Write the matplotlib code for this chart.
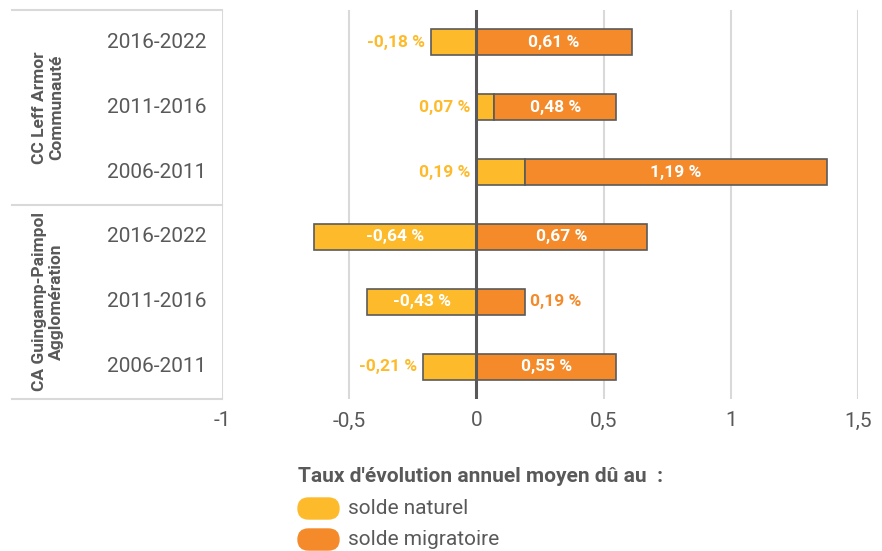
import matplotlib.pyplot as plt
from matplotlib.patches import FancyBboxPatch
from matplotlib.lines import Line2D

plt.rcParams['font.family'] = ['Roboto', 'DejaVu Sans']

# data (top to bottom)
groups = ["CC Leff Armor\nCommunauté", "CA Guingamp-Paimpol\nAgglomération"]
periods = ["2016-2022", "2011-2016", "2006-2011", "2016-2022", "2011-2016", "2006-2011"]
solde_naturel = [-0.18, 0.07, 0.19, -0.64, -0.43, -0.21]
solde_migratoire = [0.61, 0.48, 1.19, 0.67, 0.19, 0.55]
xticks = [-1, -0.5, 0, 0.5, 1, 1.5]
xtick_labels = ["-1", "-0,5", "0", "0,5", "1", "1,5"]

YELLOW = "#FDBB2C"
ORANGE = "#F48A2A"
EDGE = "#5a5a5a"
GRID = "#d9d9d9"
TXT = "#595959"

W, H = 882, 551
fig = plt.figure(figsize=(W / 100, H / 100), dpi=100)
ax = fig.add_axes([222 / W, 1 - 399 / H, (858 - 222) / W, (399 - 10) / H])

ypos = list(range(len(periods)))
bar_h = 0.4

# stack: positive parts on the right, negative on the left
left_nat = [0] * len(ypos)
left_mig = [n if (n > 0 and m > 0) else 0 for n, m in zip(solde_naturel, solde_migratoire)]

ax.barh(ypos, solde_naturel, left=left_nat, height=bar_h, color=YELLOW,
        edgecolor=EDGE, linewidth=1.2, zorder=3)
ax.barh(ypos, solde_migratoire, left=left_mig, height=bar_h, color=ORANGE,
        edgecolor=EDGE, linewidth=1.2, zorder=3)

ax.set_xlim(-1, 1.5)
ax.set_ylim(len(ypos) - 0.5, -0.5)
ax.set_xticks(xticks)
ax.set_xticklabels(xtick_labels, fontsize=15, color=TXT)
ax.set_yticks([])
ax.tick_params(axis='x', length=0, pad=9)
for s in ax.spines.values():
    s.set_visible(False)
for x in xticks:
    if x == 0:
        ax.axvline(0, color=TXT, linewidth=2.2, zorder=4)
    else:
        ax.axvline(x, color=GRID, linewidth=1.5, zorder=1)


def fmt(v):
    return ("%.2f" % v).replace(".", ",") + " %"


lbl_kw = dict(fontsize=12.5, fontweight='bold', va='center', zorder=5)
pad = 0.022
for y, n, m, ln, lm in zip(ypos, solde_naturel, solde_migratoire, left_nat, left_mig):
    # solde naturel
    if abs(n) >= 0.3:
        ax.text(ln + n / 2, y, fmt(n), color='white', ha='center', **lbl_kw)
    else:
        xe = min(ln, ln + n)
        ax.text(xe - pad, y, fmt(n), color=YELLOW, ha='right', **lbl_kw)
    # solde migratoire
    if abs(m) >= 0.3:
        ax.text(lm + m / 2, y, fmt(m), color='white', ha='center', **lbl_kw)
    else:
        ax.text(lm + m + pad, y, fmt(m), color=ORANGE, ha='left', **lbl_kw)

# period labels
for y, p in zip(ypos, periods):
    ax.text(-1.06, y, p, ha='right', va='center', fontsize=15, color=TXT)

# group labels and separators
for k, g in enumerate(groups):
    ax.text(-1.685, 1 + 3 * k, g, ha='center', va='center', rotation=90,
            fontsize=12.5, fontweight='bold', color=TXT, linespacing=1.2)
for yy in [10, 205, 399]:
    fig.add_artist(Line2D([12 / W, 222 / W], [1 - yy / H, 1 - yy / H],
                          color=GRID, linewidth=1.5))

# legend
fig.text(298 / W, 1 - 476 / H, "Taux d'évolution annuel moyen dû au  :",
         fontsize=15, fontweight='bold', color=TXT, va='center', ha='left')
for cy, col, lab in [(508.5, YELLOW, "solde naturel"), (539.5, ORANGE, "solde migratoire")]:
    fig.add_artist(FancyBboxPatch((298, H - cy - 10.5), 41, 21,
                                  boxstyle="round,pad=0,rounding_size=10.5",
                                  transform=None, color=col))
    fig.text(348 / W, 1 - cy / H, lab, fontsize=15, color=TXT, va='center', ha='left')

fig.savefig("out.png", dpi=100)
